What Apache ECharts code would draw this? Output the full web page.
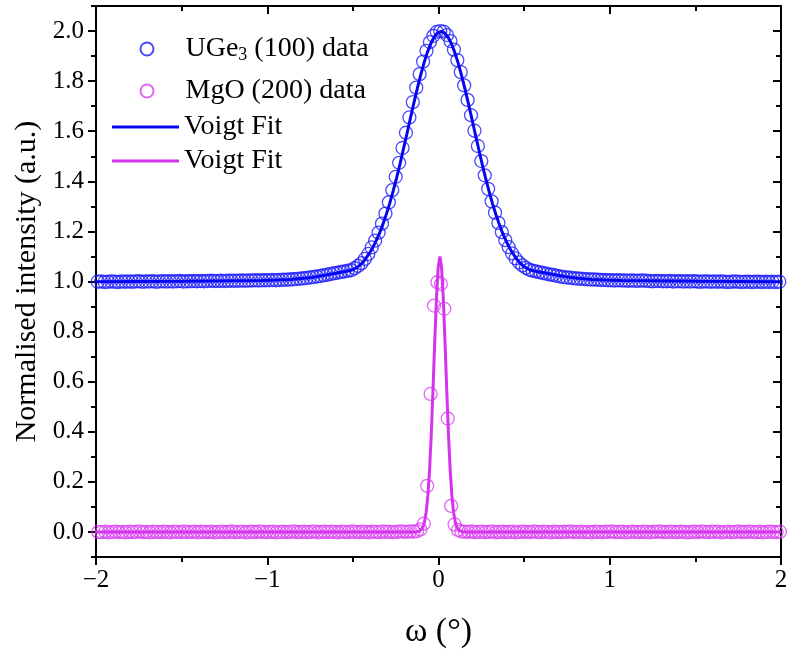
<!DOCTYPE html>
<html>
<head>
<meta charset="utf-8">
<script src="https://cdn.jsdelivr.net/npm/echarts@6/dist/echarts.min.js"></script>
<style>
html,body{margin:0;padding:0;background:#fff;}
#chart{width:797px;height:662px;}
</style>
</head>
<body>
<div id="chart"></div>
<script>
// ---------------- data ----------------
// UGe3 (100) data: sampled from x = -1.99 in steps of 0.02 (200 points)
var ugeStart = -1.99, ugeStep = 0.02;
var ugeData = [
0.999,1.000,0.998,0.999,1.000,0.999,0.998,1.000,0.999,1.000,
0.999,1.000,1.001,0.999,1.000,1.000,1.001,0.999,1.000,1.001,
1.000,1.001,1.000,1.001,1.002,1.000,1.001,1.001,1.002,1.001,
1.002,1.001,1.002,1.003,1.002,1.002,1.003,1.002,1.003,1.003,
1.003,1.003,1.004,1.003,1.004,1.004,1.005,1.004,1.005,1.005,
1.005,1.006,1.005,1.006,1.007,1.007,1.008,1.009,1.010,1.011,
1.013,1.014,1.016,1.018,1.020,1.022,1.025,1.027,1.030,1.033,
1.035,1.038,1.040,1.043,1.045,1.053,1.062,1.073,1.090,1.110,
1.136,1.163,1.195,1.231,1.271,1.316,1.365,1.418,1.474,1.533,
1.594,1.655,1.716,1.774,1.828,1.878,1.921,1.956,1.981,1.997,
2.000,
1.998,1.984,1.960,1.926,1.884,1.836,1.783,1.725,1.664,1.602,
1.541,1.481,1.424,1.370,1.320,1.275,1.234,1.197,1.165,1.137,
1.112,1.092,1.076,1.064,1.055,1.047,1.043,1.040,1.037,1.034,
1.031,1.028,1.026,1.023,1.020,1.018,1.016,1.015,1.013,1.012,
1.011,1.010,1.009,1.008,1.008,1.007,1.006,1.006,1.005,1.005,
1.004,1.005,1.004,1.004,1.003,1.004,1.003,1.003,1.004,1.003,
1.002,1.001,1.002,1.002,1.001,1.001,1.002,1.000,1.001,1.001,
1.000,1.001,1.000,1.001,1.000,0.999,1.000,1.000,0.999,1.000,
0.999,1.000,0.999,0.998,0.999,1.000,0.999,0.998,0.999,
0.999,0.998,0.999,0.999,0.998,0.999,0.998,0.999,0.998,0.999
];

// MgO (200) data: sampled from x = -1.986 in steps of 0.02 (200 points)
var mgoStart = -1.986, mgoStep = 0.02;
var mgoData = [
0.000,-0.001,0.001,-0.002,0.000,0.001,-0.001,0.000,-0.002,0.001,
-0.001,0.000,0.002,-0.001,0.000,-0.002,0.001,0.000,-0.001,0.001,
0.000,-0.002,0.001,0.000,-0.001,0.002,-0.001,0.000,0.001,-0.002,
0.001,0.000,-0.001,0.001,-0.002,0.000,0.001,-0.001,0.000,0.002,
-0.001,0.000,0.001,-0.002,0.000,0.001,-0.001,0.002,0.000,-0.001,
0.000,0.001,-0.002,0.000,0.001,-0.001,0.000,0.002,-0.001,0.000,
0.001,-0.001,0.000,0.002,-0.002,0.000,0.001,-0.001,0.001,0.000,
-0.002,0.001,0.000,-0.001,0.002,0.000,-0.001,0.001,0.000,-0.002,
0.001,0.000,-0.001,0.002,0.000,0.001,-0.001,0.000,0.002,0.001,
0.000,0.002,0.001,
0.003,0.010,0.033,0.184,0.551,0.904,0.997,0.990,0.891,0.453,0.104,0.030,0.008,0.002,
0.001,0.000,0.002,-0.001,0.000,0.001,-0.001,0.000,0.002,-0.002,
0.000,0.001,-0.001,0.000,0.001,-0.002,0.000,0.001,0.000,-0.001,
0.002,0.000,-0.001,0.001,0.000,-0.002,0.001,0.000,-0.001,0.001,
0.000,0.002,-0.001,0.000,0.001,-0.001,0.000,-0.002,0.001,0.000,
-0.001,0.001,0.000,0.002,-0.001,0.000,0.001,-0.002,0.000,0.001,
0.000,-0.001,0.001,0.000,-0.002,0.001,0.000,0.002,-0.001,0.000,
0.001,0.000,-0.001,0.001,0.000,-0.002,0.000,0.001,-0.001,0.002,
0.000,-0.001,0.001,0.000,0.001,-0.002,0.000,0.001,-0.001,0.000,
0.002,-0.001,0.000,0.001,0.000,-0.001,0.001,-0.002,0.000,0.001,
0.000,-0.001,0.001
];

// Voigt fit of UGe3
var ugeFitX = [-2.0,-1.485,-1.185,-1.035,-0.945,-0.865,-0.785,-0.745,-0.705,-0.665,-0.625,-0.585,-0.545,-0.505,-0.485,-0.465,-0.445,-0.425,-0.405,-0.385,
-0.365,-0.345,-0.325,-0.305,-0.285,-0.265,-0.245,-0.225,-0.205,-0.185,-0.165,-0.145,-0.125,-0.105,-0.085,-0.065,-0.045,-0.025,-0.005,0.015,
0.035,0.055,0.075,0.095,0.115,0.135,0.155,0.175,0.195,0.215,0.235,0.255,0.275,0.295,0.315,0.335,0.355,0.375,0.395,0.415,
0.435,0.455,0.475,0.495,0.515,0.535,0.575,0.615,0.655,0.695,0.735,0.775,0.815,0.895,0.975,1.065,1.215,1.515,2.0];
var ugeFitY = [0.999,1.001,1.003,1.004,1.006,1.008,1.013,1.016,1.020,1.025,1.030,1.035,1.040,1.046,1.053,1.062,1.074,1.091,1.111,1.134,
1.161,1.192,1.228,1.268,1.312,1.361,1.413,1.469,1.528,1.588,1.649,1.709,1.767,1.822,1.872,1.915,1.950,1.976,1.993,1.999,
1.993,1.976,1.950,1.915,1.872,1.822,1.767,1.709,1.649,1.588,1.528,1.469,1.413,1.361,1.312,1.268,1.228,1.192,1.161,1.134,
1.111,1.091,1.074,1.062,1.053,1.046,1.040,1.035,1.030,1.025,1.020,1.016,1.013,1.008,1.006,1.004,1.003,1.001,0.999];

// Voigt fit of MgO
var mgoFitX = [-2.0,-0.152,-0.132,-0.122,-0.112,-0.102,-0.092,-0.082,-0.072,-0.062,-0.052,-0.042,-0.032,-0.022,-0.012,-0.002,0.008,
0.018,0.028,0.038,0.048,0.058,0.068,0.078,0.088,0.098,0.108,0.118,0.128,0.138,0.148,0.168,2.0];
var mgoFitY = [0.000,0.000,0.0003,0.0010,0.0029,0.0075,0.0178,0.0390,0.0786,0.1459,0.2494,0.3924,0.5687,0.759,0.9328,1.0556,1.100,
1.0556,0.9328,0.759,0.5687,0.3924,0.2494,0.1459,0.0786,0.0390,0.0178,0.0075,0.0029,0.0010,0.0003,0.000,0.000];

var xTicks = [-2,-1,0,1,2];
var yMajorTicks = [0.0,0.2,0.4,0.6,0.8,1.0,1.2,1.4,1.6,1.8,2.0];
var yMinorTicks = [-0.1,0.1,0.3,0.5,0.7,0.9,1.1,1.3,1.5,1.7,1.9,2.1];

// ---------------- build ----------------
function gridPairs(start, step, ys){
  var out = [];
  for (var i = 0; i < ys.length; i++) out.push([+(start + i*step).toFixed(4), ys[i]]);
  return out;
}
function zipPairs(xs, ys){
  var out = [];
  for (var i = 0; i < Math.min(xs.length, ys.length); i++) out.push([xs[i], ys[i]]);
  return out;
}

var FONT = 'Liberation Serif';
var BLUE_PT = '#1e1efa', BLUE_LN = '#0505f0';
var MAG_PT = '#da40f2', MAG_LN = '#d633ee';
var AX = {color:'#000', width:2};

function yAxisBase(extra){
  var o = {type:'value', min:-0.1, max:2.1, splitLine:{show:false},
    axisLine:{show:true, onZero:false, lineStyle:AX}, axisLabel:{show:false}};
  for (var k in extra) o[k] = extra[k];
  return o;
}
function xAxisBase(extra){
  var o = {type:'value', min:-2, max:2, interval:1, splitLine:{show:false},
    axisLine:{show:true, onZero:false, lineStyle:AX}, axisLabel:{show:false}};
  for (var k in extra) o[k] = extra[k];
  return o;
}
function minus(v){ return String(v).replace('-', '\u2212'); }

function textStyleFor(padLeft){
  return {fontFamily:FONT, fontSize:28, color:'#000', padding:[0,0,0,padLeft],
    rich:{n:{fontFamily:FONT, fontSize:28, color:'#000'},
          s:{fontFamily:FONT, fontSize:18, color:'#000', padding:[13,0,0,0]}}};
}
function dataLegend(name, top, fmt){
  return {show:true, data:[{name:name, icon:'circle'}], left:139.5, top:top, padding:0,
    itemWidth:13, itemHeight:13, selectedMode:false, textStyle:textStyleFor(27),
    formatter:function(){return fmt;}};
}
function fitLegend(name, top){
  return {show:true, data:[{name:name, icon:'rect'}], left:112, top:top, padding:0,
    itemWidth:67, itemHeight:3, selectedMode:false, textStyle:textStyleFor(0),
    formatter:function(){return 'Voigt Fit';}};
}

var chart = echarts.init(document.getElementById('chart'), null, {renderer:'canvas'});
chart.setOption({
  animation:false,
  backgroundColor:'#fff',
  grid:{left:96, right:16, top:6, bottom:105, containLabel:false},
  legend:[
    dataLegend('UGe3 (100) data', 35, '{n|UGe}{s|3}{n| (100) data}'),
    dataLegend('MgO (200) data', 77, 'MgO (200) data'),
    fitLegend('fitU', 113),
    fitLegend('fitM', 147)
  ],
  xAxis:[
    xAxisBase({position:'bottom',
      axisTick:{show:true, inside:false, length:8, lineStyle:AX},
      minorTick:{show:true, splitNumber:2, length:5, lineStyle:AX},
      axisLabel:{show:true, margin:11, fontFamily:FONT, fontSize:25, color:'#000',
        customValues:xTicks, formatter:function(v){return minus(v);}},
      name:'\u03C9 (\u00B0)', nameLocation:'middle', nameGap:58,
      nameTextStyle:{fontFamily:FONT, fontSize:34, color:'#000'}}),
    xAxisBase({position:'top',
      axisTick:{show:true, inside:true, length:8, lineStyle:AX},
      minorTick:{show:true, splitNumber:2, length:5, lineStyle:AX}})
  ],
  yAxis:[
    yAxisBase({position:'left',
      axisTick:{show:true, inside:false, length:8, lineStyle:AX, customValues:yMajorTicks},
      axisLabel:{show:true, margin:12, fontFamily:FONT, fontSize:25, color:'#000',
        customValues:yMajorTicks, formatter:function(v){return minus(v.toFixed(1));}},
      name:'Normalised intensity (a.u.)', nameLocation:'middle', nameGap:52, nameRotate:90,
      nameTextStyle:{fontFamily:FONT, fontSize:30, color:'#000'}}),
    yAxisBase({position:'left',
      axisTick:{show:true, inside:false, length:5, lineStyle:AX, customValues:yMinorTicks}}),
    yAxisBase({position:'right',
      axisTick:{show:true, inside:true, length:8, lineStyle:AX, customValues:yMajorTicks}}),
    yAxisBase({position:'right',
      axisTick:{show:true, inside:true, length:5, lineStyle:AX, customValues:yMinorTicks}})
  ],
  series:[
    {name:'UGe3 (100) data', type:'scatter', xAxisIndex:0, yAxisIndex:0, symbol:'circle', symbolSize:13,
     itemStyle:{color:'rgba(255,255,255,0)', borderColor:BLUE_PT, borderWidth:1.3}, data:gridPairs(ugeStart, ugeStep, ugeData), z:2},
    {name:'MgO (200) data', type:'scatter', xAxisIndex:0, yAxisIndex:0, symbol:'circle', symbolSize:13,
     itemStyle:{color:'rgba(255,255,255,0)', borderColor:MAG_PT, borderWidth:1.3}, data:gridPairs(mgoStart, mgoStep, mgoData), z:2},
    {name:'fitU', type:'line', xAxisIndex:0, yAxisIndex:0, symbol:'none', showSymbol:false, smooth:false,
     lineStyle:{color:BLUE_LN, width:3}, itemStyle:{color:BLUE_LN}, data:zipPairs(ugeFitX, ugeFitY), z:3},
    {name:'fitM', type:'line', xAxisIndex:0, yAxisIndex:0, symbol:'none', showSymbol:false, smooth:false,
     lineStyle:{color:MAG_LN, width:3}, itemStyle:{color:MAG_LN}, data:zipPairs(mgoFitX, mgoFitY), z:3}
  ]
});
</script>
</body>
</html>
